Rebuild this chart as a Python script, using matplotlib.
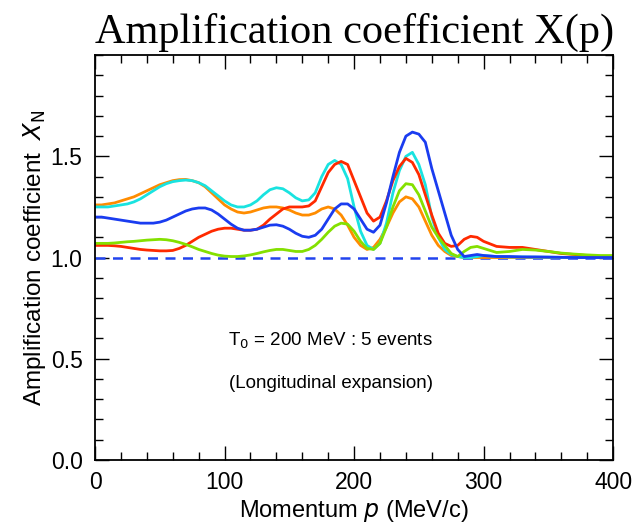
import numpy as np
import matplotlib.pyplot as plt
from matplotlib.ticker import MultipleLocator

# momentum grid (MeV/c): every 5 up to 300, every 10 beyond
p = list(range(0, 301, 5)) + list(range(310, 401, 10))

orange = [1.26, 1.26, 1.265, 1.27, 1.28, 1.29, 1.30, 1.315, 1.33, 1.345,
          1.36, 1.37, 1.38, 1.385, 1.386, 1.38, 1.37, 1.35, 1.32, 1.29,
          1.26, 1.24, 1.225, 1.22, 1.225, 1.235, 1.245, 1.25, 1.25, 1.245,
          1.235, 1.22, 1.21, 1.21, 1.22, 1.24, 1.25, 1.24, 1.21, 1.16,
          1.10, 1.06, 1.04, 1.05, 1.09, 1.15, 1.22, 1.275, 1.30, 1.29,
          1.25, 1.18, 1.11, 1.06, 1.03, 1.01, 1.005, 1.0, 1.0, 1.0,
          1.0,
          1.0, 1.0, 1.0, 1.0, 1.0, 1.0, 1.0, 1.0, 1.0, 1.0]

cyan = [1.25, 1.25, 1.25, 1.255, 1.26, 1.265, 1.275, 1.29, 1.31, 1.33,
        1.35, 1.365, 1.375, 1.38, 1.383, 1.38, 1.37, 1.355, 1.33, 1.305,
        1.28, 1.26, 1.25, 1.25, 1.26, 1.28, 1.31, 1.335, 1.345, 1.34,
        1.32, 1.295, 1.28, 1.285, 1.32, 1.40, 1.46, 1.48, 1.46, 1.39,
        1.25, 1.13, 1.06, 1.04, 1.07, 1.17, 1.32, 1.43, 1.50, 1.52,
        1.46, 1.36, 1.20, 1.10, 1.04, 1.015, 1.005, 1.0, 1.0, 1.005,
        1.01,
        1.005, 1.003, 1.003, 1.002, 1.002, 1.001, 1.001, 1.0, 1.0, 1.0]

blue = [1.20, 1.20, 1.195, 1.19, 1.185, 1.18, 1.175, 1.17, 1.17, 1.17,
        1.175, 1.185, 1.20, 1.215, 1.23, 1.24, 1.245, 1.245, 1.235, 1.215,
        1.19, 1.165, 1.145, 1.135, 1.135, 1.14, 1.15, 1.16, 1.162, 1.155,
        1.14, 1.12, 1.105, 1.10, 1.11, 1.14, 1.19, 1.24, 1.265, 1.265,
        1.24, 1.19, 1.14, 1.125, 1.16, 1.27, 1.40, 1.52, 1.60, 1.62,
        1.61, 1.57, 1.44, 1.33, 1.22, 1.11, 1.04, 1.005, 1.01, 1.015,
        1.01,
        1.005, 1.005, 1.003, 1.003, 1.002, 1.001, 1.0, 1.0, 1.0, 1.0]

red = [1.06, 1.06, 1.06, 1.058, 1.055, 1.05, 1.045, 1.04, 1.037, 1.035,
       1.033, 1.033, 1.035, 1.045, 1.06, 1.08, 1.10, 1.115, 1.13, 1.14,
       1.145, 1.145, 1.14, 1.135, 1.135, 1.14, 1.16, 1.19, 1.215, 1.24,
       1.25, 1.25, 1.25, 1.255, 1.28, 1.35, 1.42, 1.46, 1.475, 1.46,
       1.38, 1.30, 1.22, 1.18, 1.20, 1.28, 1.38, 1.45, 1.49, 1.47,
       1.41, 1.31, 1.21, 1.12, 1.07, 1.055, 1.06, 1.09, 1.105, 1.10,
       1.08,
       1.055, 1.05, 1.05, 1.04, 1.03, 1.02, 1.015, 1.01, 1.005, 1.005]

green = [1.07, 1.07, 1.07, 1.072, 1.075, 1.078, 1.08, 1.083, 1.086, 1.088,
         1.09, 1.088, 1.083, 1.075, 1.065, 1.053, 1.04, 1.03, 1.02, 1.012,
         1.007, 1.005, 1.005, 1.008, 1.013, 1.02, 1.028, 1.035, 1.04, 1.04,
         1.035, 1.03, 1.03, 1.04, 1.06, 1.09, 1.125, 1.155, 1.17, 1.165,
         1.13, 1.08, 1.045, 1.04, 1.07, 1.15, 1.25, 1.33, 1.365, 1.36,
         1.31, 1.23, 1.15, 1.10, 1.06, 1.02, 1.005, 1.03, 1.05, 1.055,
         1.045,
         1.025, 1.03, 1.04, 1.037, 1.03, 1.022, 1.017, 1.013, 1.01, 1.01]

series = [(orange, '#ff8c00'), (cyan, '#19e3e0'), (red, '#ff2a00'),
          (green, '#84e000'), (blue, '#1a3cf0')]

plt.rcParams['font.family'] = ['Liberation Sans', 'DejaVu Sans']
fig = plt.figure(figsize=(6.38, 5.31), dpi=100)
ax = fig.add_axes([0.149, 0.134, 0.812, 0.762])

ax.axhline(1.0, color='#2244ee', lw=1.8, ls=(0, (4, 3)))
for y, c in series:
    ax.plot(p, y, color=c, lw=2.0)

ax.set_xlim(0, 400)
ax.set_ylim(0, 2.0)
ax.xaxis.set_major_locator(MultipleLocator(100))
ax.xaxis.set_minor_locator(MultipleLocator(20))
ax.yaxis.set_major_locator(MultipleLocator(0.5))
ax.yaxis.set_minor_locator(MultipleLocator(0.1))
ax.set_yticks([0, 0.5, 1.0, 1.5])
ax.set_yticklabels(['0.0', '0.5', '1.0', '1.5'])
ax.tick_params(which='both', direction='in', top=True, right=True,
               labelsize=16.5, width=1.0)
ax.tick_params(which='major', length=10)
ax.tick_params(which='minor', length=6)
ax.tick_params(axis='x', pad=8)
ax.tick_params(axis='y', pad=9)
for s in ax.spines.values():
    s.set_linewidth(1.3)

ax.set_xlabel('Momentum $p$ (MeV/c)', fontsize=17, labelpad=3)
ax.set_ylabel('Amplification coefficient  $X_{\\mathrm{N}}$', fontsize=17.5,
              labelpad=2)
ax.set_title('Amplification coefficient X(p)', fontsize=30.5,
             family='Liberation Serif', pad=9)

ax.text(182, 0.565, 'T$_0$ = 200 MeV : 5 events', fontsize=13.5, ha='center')
ax.text(182, 0.355, '(Longitudinal expansion)', fontsize=13.5, ha='center')

plt.savefig('out.png')
